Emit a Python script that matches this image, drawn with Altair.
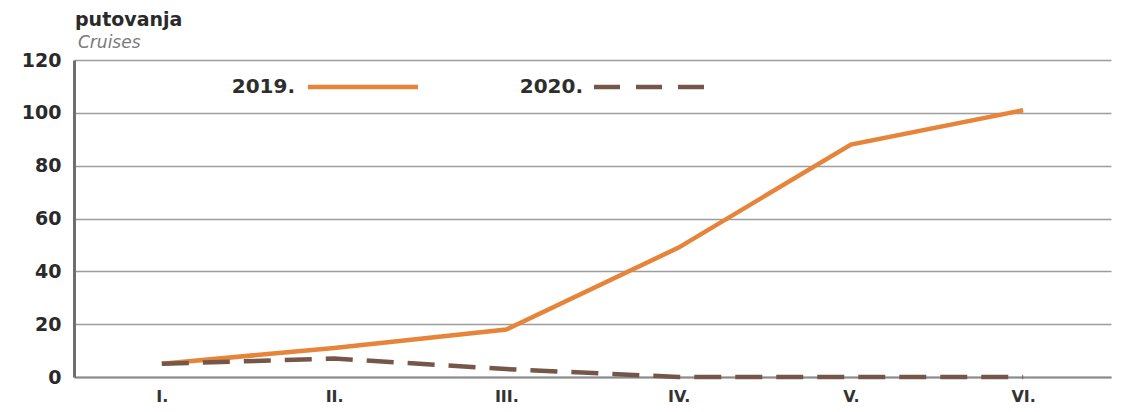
import altair as alt
import pandas as pd

months = ["I.", "II.", "III.", "IV.", "V.", "VI."]
s2019 = [5, 11, 18, 49, 88, 101]
s2020 = [5, 7, 3, 0, 0, 0]
series = ["2019.", "2020."]
colors = ["#E6843A", "#75574A"]
y_ticks = [0, 20, 40, 60, 80, 100, 120]
title_lines = ["putovanja", "Cruises"]

FONT = "DejaVu Sans"

df = pd.DataFrame({
    "month": months * 2,
    "value": s2019 + s2020,
    "series": [series[0]] * 6 + [series[1]] * 6,
})

x = alt.X("month:N", sort=months, title=None,
          scale=alt.Scale(type="point", padding=0.51),
          axis=alt.Axis(labelAngle=0, labelFont=FONT, labelFontSize=16,
                        labelFontWeight="bold", labelColor="#333", ticks=False,
                        domainColor="#8a8a8a", domainWidth=2, labelPadding=11, grid=False))
y = alt.Y("value:Q", title=None,
          scale=alt.Scale(domain=[0, 120], nice=False),
          axis=alt.Axis(values=y_ticks, labelFont=FONT, labelFontSize=19,
                        labelColor="#2a2a2a", labelFontWeight="bold", ticks=False, labelPadding=13,
                        domainColor="#6f6f6f", domainWidth=3,
                        gridColor="#9d9d9d", gridWidth=1.6))

line19 = alt.Chart(df[df.series == series[0]]).mark_line(
    color=colors[0], strokeWidth=4.5).encode(x=x, y=y)
line20 = alt.Chart(df[df.series == series[1]]).mark_line(
    color=colors[1], strokeWidth=4.5, strokeDash=[27, 14]).encode(x=x, y=y)


def text_layer(label, **kw):
    return alt.Chart(pd.DataFrame({"label": [label]})).mark_text(**kw).encode(
        text="label:N")


leg_text19 = text_layer(series[0], font=FONT, fontSize=20, fontWeight="bold", color="#2e2e2e",
                        align="right", baseline="middle").encode(x=alt.value(221), y=alt.value(27))
leg_text20 = text_layer(series[1], font=FONT, fontSize=20, fontWeight="bold", color="#2e2e2e",
                        align="right", baseline="middle").encode(x=alt.value(509), y=alt.value(27))
leg_line19 = alt.Chart(pd.DataFrame({"label": [series[0]]})).mark_rule(
    color=colors[0], strokeWidth=4.5).encode(x=alt.value(234), x2=alt.value(344), y=alt.value(27))
leg_line20 = alt.Chart(pd.DataFrame({"label": [series[1]]})).mark_rule(
    color=colors[1], strokeWidth=4.5, strokeDash=[26, 16]).encode(x=alt.value(520), x2=alt.value(631), y=alt.value(27))

title1 = text_layer(title_lines[0], font=FONT, fontSize=19, fontWeight="bold", color="#2a2a2a",
                    align="left", baseline="alphabetic").encode(x=alt.value(1), y=alt.value(-34))
title2 = text_layer(title_lines[1], font=FONT, fontSize=17, fontStyle="italic", color="#7a7a7a",
                    align="left", baseline="alphabetic").encode(x=alt.value(4), y=alt.value(-12))

chart = alt.layer(line19, line20, leg_text19, leg_line19, leg_text20, leg_line20,
                  title1, title2).properties(
    width=1037, height=317,
    autosize=alt.AutoSizeParams(type="none"),
    padding={"left": 66, "top": 52, "right": 2, "bottom": 27},
).configure(background="white").configure_view(stroke=None)

chart.save("out.html", embed_options={"renderer": "svg", "actions": False})
